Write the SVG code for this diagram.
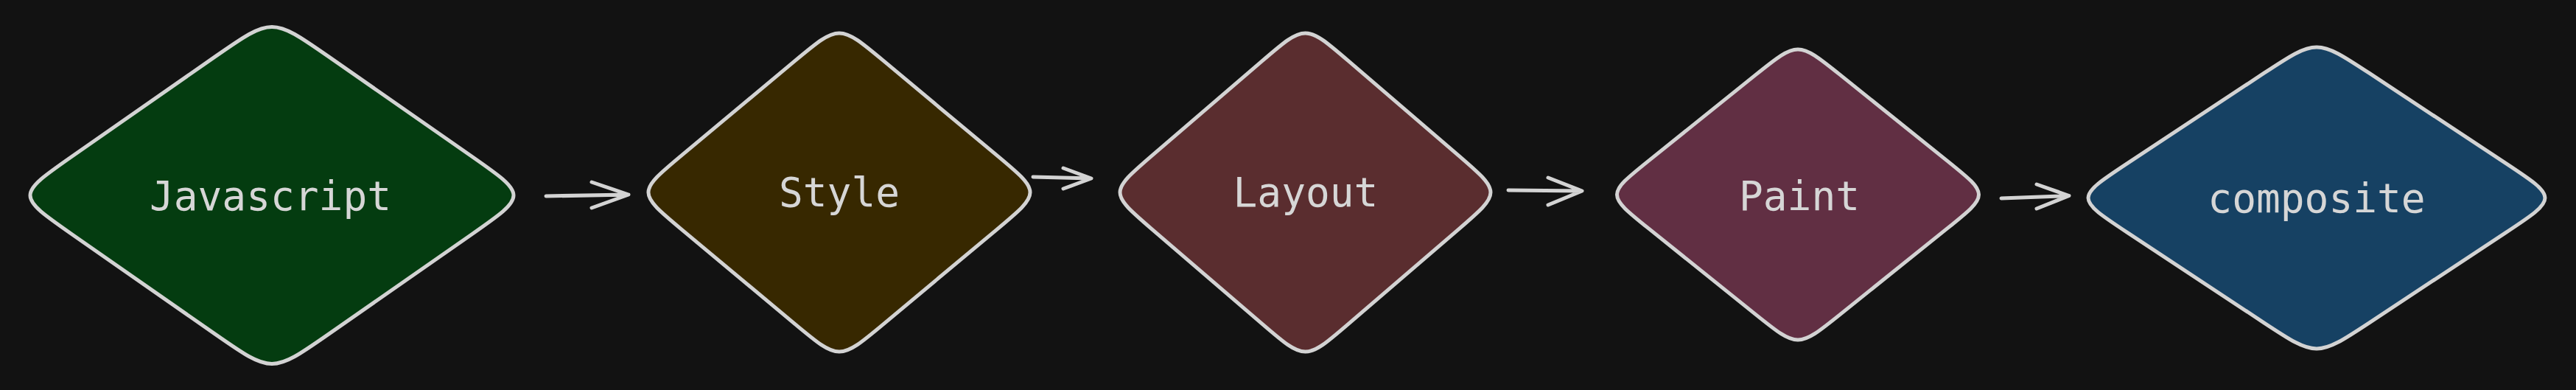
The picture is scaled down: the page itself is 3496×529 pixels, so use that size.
<svg xmlns="http://www.w3.org/2000/svg" width="3496" height="529" viewBox="0 0 3496 529">
<style>
.shape{stroke:#d3d3d3;stroke-width:5;stroke-linejoin:round}
.lbl{font-family:"DejaVu Sans Mono","Liberation Mono",monospace;font-size:54.5px;fill:#d6d6d6;text-anchor:middle}
.conn{fill:none;stroke:#d3d3d3;stroke-width:5;stroke-linecap:round;stroke-linejoin:round}
</style>
<rect width="3496" height="529" fill="#121212"/>
<g id="node-javascript">
<path class="shape" fill="#043c10" d="M445.4 76.4 L639.7 211.8 C716.1 265 716.1 265 639.7 318.2 L445.4 453.6 C369 506.8 369 506.8 292.6 453.6 L98.3 318.2 C21.9 265 21.9 265 98.3 211.8 L292.6 76.4 C369 23.2 369 23.2 445.4 76.4 Z"/>
<text class="lbl" x="367" y="285">Javascript</text>
</g>
<g id="node-style">
<path class="shape" fill="#372800" d="M1199.3 82.7 L1352.8 210.7 C1413.1 261 1413.1 261 1352.8 311.3 L1199.3 439.3 C1139 489.6 1139 489.6 1078.7 439.3 L925.2 311.3 C864.9 261 864.9 261 925.2 210.7 L1078.7 82.7 C1139 32.4 1139 32.4 1199.3 82.7 Z"/>
<text class="lbl" x="1139" y="280">Style</text>
</g>
<g id="node-layout">
<path class="shape" fill="#5a2d2f" d="M1830 82.7 L1979.1 210.7 C2037.6 261 2037.6 261 1979.1 311.3 L1830 439.3 C1771.5 489.6 1771.5 489.6 1713 439.3 L1563.9 311.3 C1505.4 261 1505.4 261 1563.9 210.7 L1713 82.7 C1771.5 32.4 1771.5 32.4 1830 82.7 Z"/>
<text class="lbl" x="1772" y="280">Layout</text>
</g>
<g id="node-paint">
<path class="shape" fill="#612f43" d="M2497.2 101.4 L2642.6 218.1 C2699.8 264 2699.8 264 2642.6 309.9 L2497.2 426.6 C2440 472.5 2440 472.5 2382.8 426.6 L2237.4 309.9 C2180.2 264 2180.2 264 2237.4 218.1 L2382.8 101.4 C2440 55.5 2440 55.5 2497.2 101.4 Z"/>
<text class="lbl" x="2442" y="285">Paint</text>
</g>
<g id="node-composite">
<path class="shape" fill="#164163" d="M3216.2 99.7 L3399.8 220.9 C3472 268.5 3472 268.5 3399.8 316.1 L3216.2 437.3 C3144 484.9 3144 484.9 3071.8 437.3 L2888.2 316.1 C2816 268.5 2816 268.5 2888.2 220.9 L3071.8 99.7 C3144 52.1 3144 52.1 3216.2 99.7 Z"/>
<text class="lbl" x="3144" y="288">composite</text>
</g>
<g id="connectors">
<path class="conn" d="M741 266 L853 264 M803 247 L853 264 L803 282"/>
<path class="conn" d="M1402 240 L1481 242 M1443 228 L1481 242 L1443 256"/>
<path class="conn" d="M2047 258 L2147 259 M2101 241 L2147 259 L2101 278"/>
<path class="conn" d="M2716 269 L2808 265.5 M2764 250 L2808 265.5 L2764 283"/>
</g>
</svg>
